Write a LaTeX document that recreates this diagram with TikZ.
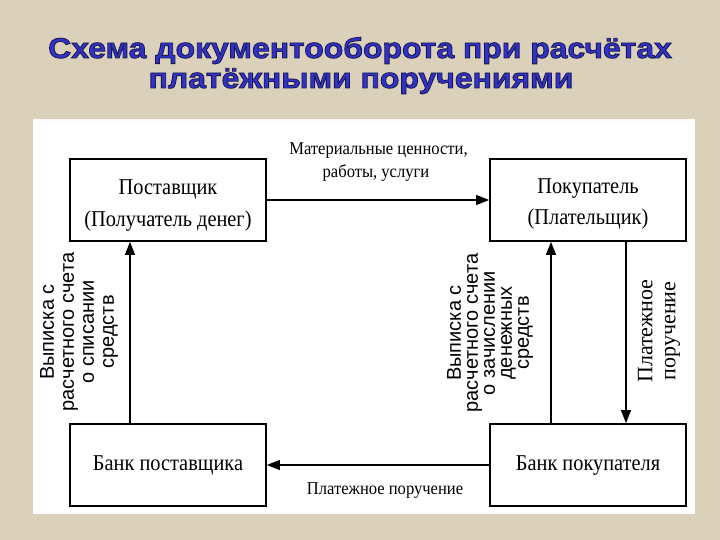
\documentclass[tikz,border=0pt]{standalone}
\usepackage{fontspec}
\setmainfont{Liberation Serif}
\newfontfamily\sansf{Liberation Sans}
\newfontfamily\condf[FakeStretch=0.9]{Liberation Serif}
\newfontfamily\lblf[FakeStretch=0.92]{Liberation Serif}
\newfontfamily\titlef[FakeBold=3,FakeStretch=1.12]{Liberation Sans}
\usetikzlibrary{arrows.meta}
\definecolor{bgbeige}{RGB}{219,208,185}
\definecolor{titleblue}{RGB}{50,50,200}
\newcommand{\darkstroke}{\special{pdf:literal 0.1 0.1 0.32 RG}}
\tikzset{
  box/.style={draw=black, line width=1.8pt, fill=white, inner sep=0pt, minimum width=196pt, minimum height=82pt},
  conn/.style={line width=1.3pt, -{Triangle[length=13pt,width=10pt]}},
  boxtext/.style={font=\condf\fontsize{22.6}{28}\selectfont, anchor=base, inner sep=0pt},
  lbl/.style={font=\lblf\fontsize{18}{23}\selectfont, anchor=base, inner sep=0pt},
  vlbl/.style={font=\sansf\fontsize{20}{20}\selectfont, align=center, rotate=90, inner sep=0pt},
  vlblm/.style={font=\sansf\fontsize{20}{17}\selectfont, align=center, rotate=90, inner sep=0pt},
  vlbls/.style={font=\fontsize{22}{23}\selectfont, align=center, rotate=90, inner sep=0pt},
  ttl/.style={font=\titlef\bfseries\fontsize{28.5}{32}\selectfont, anchor=base, inner sep=0pt, text=titleblue}
}
\begin{document}
\begin{tikzpicture}[x=1pt,y=-1pt]
\useasboundingbox (0,0) rectangle (720,540);
\fill[bgbeige] (0,0) rectangle (720,540);
% title
\node[ttl] (t1) at (360,58) {\darkstroke Схема документооборота при расчётах};
\node[ttl] (t2) at (361,88) {\darkstroke платёжными поручениями};
% panel
\fill[white!92!bgbeige] (33,119) rectangle (695,514);
\fill[white] (35,121) rectangle (693,512);
% boxes
\node[box] (sup) at (168,200) {};
\node[box] (buy) at (588,200) {};
\node[box] (bsup) at (168,465) {};
\node[box] (bbuy) at (588,465) {};
\node[boxtext] at (168,195) {Поставщик};
\node[boxtext] at (168,226) {(Получатель денег)};
\node[boxtext] at (588,194) {Покупатель};
\node[boxtext] at (588,225) {(Плательщик)};
\node[boxtext] at (168,470) {Банк поставщика};
\node[boxtext] at (588,470) {Банк покупателя};
% connectors
\draw[conn] (sup.east) -- (buy.west);
\draw[conn] (bbuy.west) -- (bsup.east);
\draw[conn] (bsup.north -| 130,0) -- (sup.south -| 130,0);
\draw[conn] (bbuy.north -| 551,0) -- (buy.south -| 551,0);
\draw[conn] (buy.south -| 626,0) -- (bbuy.north -| 626,0);
% labels
\node[lbl] (l1a) at (378.5,155) {Материальные ценности,};
\node[lbl] (l1b) at (376,178) {работы, услуги};
\node[lbl] (l2) at (385,494) {Платежное поручение};
\node[vlbl] (l3) at (79,332) {Выписка с\\расчетного счета\\о списании\\средств};
\node[vlblm] (l4) at (490,333) {Выписка с\\расчетного счета\\о зачислении\\денежных\\средств};
\node[vlbls] (l5) at (659,331) {Платежное\\поручение};
\end{tikzpicture}
\end{document}
